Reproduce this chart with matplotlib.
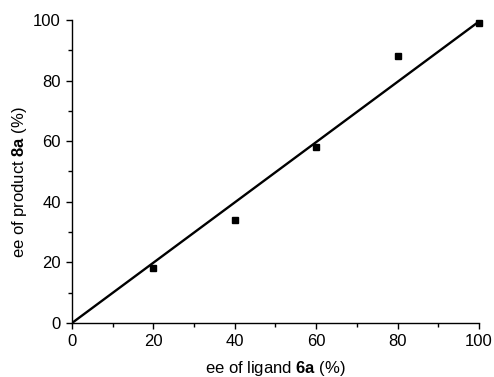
import matplotlib
matplotlib.use("Agg")
import matplotlib.pyplot as plt
from matplotlib.ticker import MultipleLocator

plt.rcParams['font.family'] = ['Liberation Sans', 'DejaVu Sans']
plt.rcParams['mathtext.fontset'] = 'custom'
plt.rcParams['mathtext.rm'] = 'Liberation Sans'
plt.rcParams['mathtext.bf'] = 'Liberation Sans:bold'

ligand_ee = [20, 40, 60, 80, 100]
product_ee = [18, 34, 58, 88, 99]
fit_x = [0, 100]
fit_y = [0, 99.5]

fig = plt.figure(figsize=(4.94, 3.77), dpi=100)
ax = fig.add_axes([0.1457, 0.1432, 0.9696 - 0.1457, 0.947 - 0.1432])

ax.plot(fit_x, fit_y, color='black', lw=1.7, solid_capstyle='butt')
ax.plot(ligand_ee, product_ee, 's', color='black', markersize=4.5, clip_on=False)

ax.set_xlim(0, 100)
ax.set_ylim(0, 100)
ax.xaxis.set_major_locator(MultipleLocator(20))
ax.xaxis.set_minor_locator(MultipleLocator(10))
ax.yaxis.set_major_locator(MultipleLocator(20))
ax.yaxis.set_minor_locator(MultipleLocator(10))
ax.spines['top'].set_visible(False)
ax.spines['right'].set_visible(False)
for s in ('left', 'bottom'):
    ax.spines[s].set_linewidth(1.0)
ax.tick_params(which='major', direction='out', length=4, width=1.0, labelsize=12, pad=4)
ax.tick_params(which='minor', direction='out', length=3, width=1.0)

ax.set_xlabel(r'ee of ligand $\mathbf{6a}$ (%)', fontsize=12, labelpad=7)
ax.set_ylabel(r'ee of product $\mathbf{8a}$ (%)', fontsize=12)
ax.yaxis.set_label_coords(-0.105, 0.465)

fig.savefig('out.png', dpi=100)
